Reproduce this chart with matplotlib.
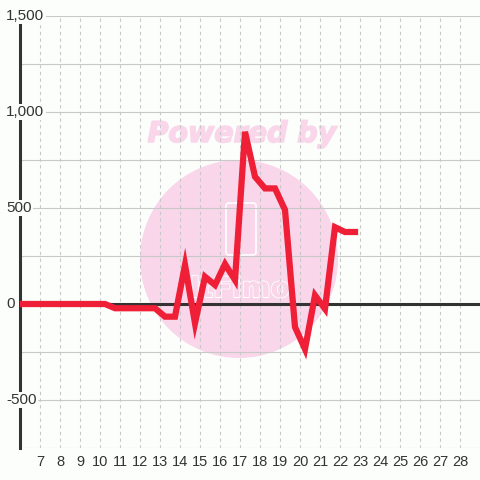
import numpy as np
import matplotlib
matplotlib.use('Agg')
import matplotlib.pyplot as plt
import matplotlib.patheffects as pe
from matplotlib.patches import Circle, FancyBboxPatch

plt.rcParams['font.family'] = ['Liberation Sans', 'DejaVu Sans']

# ---------------------------------------------------------------------------
# Data (half-day steps)
# ---------------------------------------------------------------------------
x_vals = [5.75, 6.25, 6.75, 7.25, 7.75, 8.25, 8.75, 9.25, 9.75, 10.25,
          10.75, 11.25, 11.75, 12.25, 12.75, 13.25, 13.75, 14.25, 14.75,
          15.25, 15.75, 16.25, 16.75, 17.25, 17.75, 18.25, 18.75, 19.25,
          19.75, 20.25, 20.75, 21.25, 21.75, 22.25, 22.75]
y_vals = [0, 0, 0, 0, 0, 0, 0, 0, 0, 0,
          -22, -22, -22, -22, -22, -66, -66, 203, -100,
          142, 99, 208, 125, 897, 663, 602, 602, 490,
          -120, -235, 45, -25, 400, 375, 375]

x_ticks = list(range(7, 29))
y_label_vals = [1500, 1000, 500, 0, -500]
y_label_txt = ['1,500', '1,000', '500', '0', '-500']
y_grid = list(range(-750, 1501, 250))

BG = '#fcfefc'
TXT = '#333333'
GRID = '#c8c8c8'
RED = '#ee1f36'
PINK = '#f9d6ea'

fig = plt.figure(figsize=(4.8, 4.8), dpi=100, facecolor=BG)
ax = fig.add_axes([20 / 480, 1 - 448 / 480, 460 / 480, 432 / 480], facecolor=BG)
ax.set_xlim(6, 29)
ax.set_ylim(-750, 1500)
ax.set_axisbelow(True)

# watermark (behind the grid)
ax.add_patch(Circle((239 / 480, 1 - 259 / 480), 99 / 480, transform=fig.transFigure,
                    facecolor=PINK, edgecolor='none', zorder=0.2))
ax.text(242 / 480, 1 - 134 / 480, 'Powered by', transform=fig.transFigure,
        ha='center', va='center', fontsize=20.5, fontweight='bold', style='italic',
        family='DejaVu Sans', color=PINK, zorder=0.2,
        path_effects=[pe.withStroke(linewidth=1.2, foreground=PINK)])
ax.add_patch(FancyBboxPatch((226 / 480, 1 - 255 / 480), 30 / 480, 52 / 480,
                            boxstyle='round,pad=0,rounding_size=0.006',
                            transform=fig.transFigure, facecolor='none',
                            edgecolor='white', lw=1.2, zorder=0.3))
ax.text(240 / 480, 1 - 289 / 480, 'ltFimo', transform=fig.transFigure,
        ha='center', va='center', fontsize=20, fontweight='bold', color=PINK,
        family='DejaVu Sans', zorder=0.3,
        path_effects=[pe.withStroke(linewidth=1.5, foreground='white'), pe.Normal()])

# grid
ax.set_xticks(x_ticks)
ax.set_yticks(y_grid)
ax.set_yticklabels([])
ax.grid(axis='x', color=GRID, lw=0.8, ls=(0, (3, 3)))
ax.grid(axis='y', color=GRID, lw=0.8, ls='-')
ax.tick_params(axis='both', length=0)
ax.tick_params(axis='x', labelsize=10.5, labelcolor=TXT, pad=5)

for s in ['top', 'right', 'bottom']:
    ax.spines[s].set_visible(False)
ax.spines['left'].set_color(TXT)
ax.spines['left'].set_linewidth(2.2)

ax.axhline(0, color=TXT, lw=2.2, zorder=3)
ax.plot(x_vals, y_vals, color=RED, lw=4.5, solid_joinstyle='miter', zorder=4)

# y labels with background boxes covering the spine
for v, s in zip(y_label_vals, y_label_txt):
    ax.text(6 / 480, v, s, transform=ax.get_yaxis_transform().__class__(fig.transFigure, ax.transData),
            ha='left', va='center', fontsize=11, color=TXT, zorder=6, clip_on=False,
            bbox=dict(facecolor=BG, edgecolor='none', pad=1.0))

fig.savefig('out.png', dpi=100, facecolor=BG)
